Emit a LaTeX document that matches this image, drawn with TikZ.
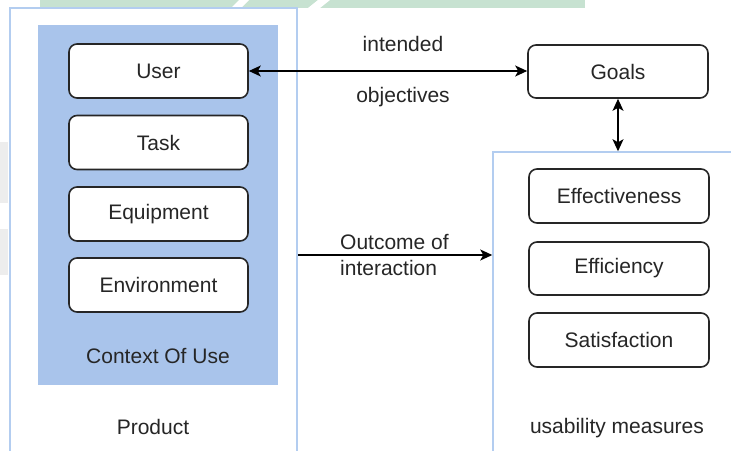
\documentclass[tikz,border=0pt]{standalone}
\usepackage{fontspec}
\setmainfont{Liberation Sans}
\usetikzlibrary{arrows.meta}
\definecolor{ctxblue}{HTML}{A9C4EB}
\definecolor{frameblue}{HTML}{B3CDF0}
\definecolor{inkgray}{HTML}{262626}
\definecolor{bandgreen}{HTML}{C7E2D1}
\tikzset{
  item/.style={draw=inkgray, line width=1.6pt, rounded corners=8pt, fill=white,
    minimum width=179pt, minimum height=54pt, inner sep=0pt,
    font=\fontsize{21}{25}\selectfont, text=inkgray},
  frame/.style={draw=frameblue, line width=1.5pt, fill=white, inner sep=0pt},
  lbl/.style={font=\fontsize{21}{25}\selectfont, text=inkgray, inner sep=0pt},
  link/.style={line width=1.4pt, draw=black,
    arrows={-Stealth[length=12pt,width=11pt,inset=3pt]}},
  dlink/.style={line width=1.4pt, draw=black,
    arrows={Stealth[length=12pt,width=11pt,inset=3pt]-Stealth[length=12pt,width=11pt,inset=3pt]}},
}
\begin{document}
\begin{tikzpicture}[x=1pt,y=-1pt]
  \useasboundingbox (0,0) rectangle (731,450);
  \clip (0,0) rectangle (731,450);
  \fill[white] (0,0) rectangle (731,450);

  % faint background band along the top edge
  \fill[bandgreen] (40,0) rectangle (585,8);
  \fill[white] (231,8) -- (241,8) -- (249,0) -- (239,0) -- cycle;
  \fill[white] (308,8) -- (320,8) -- (330,0) -- (318,0) -- cycle;
  \fill[black!7] (0,142) rectangle (8,203);
  \fill[black!7] (0,229) rectangle (8,275);

  % containers
  \node[frame, minimum width=287pt, minimum height=462pt] (prod) at (153.5,239) {};
  \node[fill=ctxblue, minimum width=240pt, minimum height=360pt, inner sep=0pt] (ctx) at (158,205) {};
  \node[frame, minimum width=277pt, minimum height=318pt] (usab) at (631.5,311) {};

  % context of use
  \node[item] (user) at (158.5,71) {User};
  \node[item] (task) at (158.5,142.5) {Task};
  \node[item] (equip) at (158.5,214) {Equipment};
  \node[item] (env) at (158.5,285) {Environment};
  \node[lbl] (ctxlbl) at (158,356) {Context Of Use};
  \node[lbl] (prodlbl) at (153,427) {Product};

  % goals and measures
  \node[item, minimum width=180pt, minimum height=53pt] (goals) at (618,71.5) {Goals};
  \node[item, minimum width=180pt] (effect) at (619,196) {Effectiveness};
  \node[item, minimum width=180pt, minimum height=53pt] (effic) at (619,268.5) {Efficiency};
  \node[item, minimum width=180pt] (satis) at (619,340) {Satisfaction};
  \node[lbl] (usablbl) at (617,428) {usability measures};

  % connectors
  \draw[dlink] (user.east) -- (user.east -| goals.west);
  \draw[dlink] (goals.south) -- (goals.south |- usab.north);
  \draw[link] ([yshift=-16pt]prod.east) -- ([yshift=-16pt]prod.east -| usab.west);

  % connector labels
  \node[lbl] (intended) at (403,44) {intended};
  \node[lbl] (objectives) at (403,97) {objectives};
  \node[lbl, align=left, anchor=west] (outcome) at (340,255) {Outcome of\\interaction};
\end{tikzpicture}
\end{document}
